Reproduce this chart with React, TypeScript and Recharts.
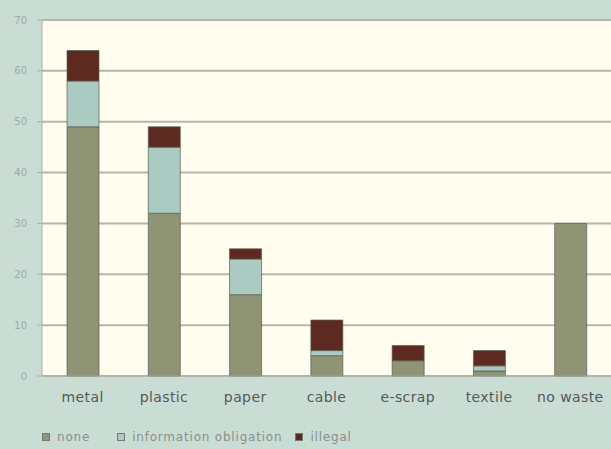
import { BarChart, Bar, XAxis, YAxis, CartesianGrid, Legend } from "recharts";

const categories = ["metal", "plastic", "paper", "cable", "e-scrap", "textile", "no waste"];
const none = [49, 32, 16, 4, 3, 1, 30];
const informationObligation = [9, 13, 7, 1, 0, 1, 0];
const illegal = [6, 4, 2, 6, 3, 3, 0];
const yTicks = [0, 10, 20, 30, 40, 50, 60, 70];

const data = categories.map((name, i) => ({
  name,
  none: none[i],
  info: informationObligation[i],
  illegal: illegal[i],
}));

const series = [
  { key: "none", label: "none", color: "#8f9474", gap: 27 },
  { key: "info", label: "information obligation", color: "#abcac2", gap: 13 },
  { key: "illegal", label: "illegal", color: "#5c2a21", gap: 0 },
];

const LegendRow = () => (
  <div
    style={{
      display: "flex",
      alignItems: "center",
      fontFamily: "DejaVu Sans",
      fontSize: 12,
      color: "#8a8f8c",
      letterSpacing: 0.8,
    }}
  >
    {series.map((s) => (
      <span key={s.key} style={{ display: "flex", alignItems: "center", marginRight: s.gap }}>
        <span
          style={{
            width: 6,
            height: 6,
            background: s.color,
            border: "1px solid #777",
            marginRight: 7,
            display: "inline-block",
          }}
        />
        {s.label}
      </span>
    ))}
  </div>
);

const App = () => {
  return (
    <div
      style={{
        position: "absolute",
        left: 0,
        top: 0,
        width: 611,
        height: 449,
        background: "#c9ddd5",
      }}
    >
      <BarChart
        width={611}
        height={449}
        data={data}
        margin={{ top: 20, right: 0, left: 0, bottom: 11 }}
        barSize={32}
      >
        <CartesianGrid
          vertical={false}
          fill="#fffdf0"
          stroke="#b6b6a8"
          strokeWidth={2}
        />
        <YAxis
          width={42}
          domain={[0, 70]}
          ticks={yTicks}
          interval={0}
          axisLine={{ stroke: "#a9b3ad" }}
          tickLine={{ stroke: "#a9b3ad" }}
          tickSize={5}
          tickMargin={10}
          tick={{ fill: "#a0aaa6", fontSize: 10, fontFamily: "DejaVu Sans" }}
        />
        <XAxis
          dataKey="name"
          height={42}
          interval={0}
          axisLine={{ stroke: "#a9b3ad" }}
          tickLine={false}
          tickMargin={10}
          tick={{ fill: "#55595a", fontSize: 14, fontFamily: "DejaVu Sans", letterSpacing: 0.4 }}
        />
        <Legend
          verticalAlign="bottom"
          align="left"
          content={() => <LegendRow />}
          wrapperStyle={{ left: 42, bottom: -1, height: 20 }}
        />
        {series.map((s) => (
          <Bar
            key={s.key}
            dataKey={s.key}
            stackId="a"
            fill={s.color}
            stroke="#5a5d52"
            strokeOpacity={0.7}
            isAnimationActive={false}
          />
        ))}
      </BarChart>
    </div>
  );
};

export default App;
